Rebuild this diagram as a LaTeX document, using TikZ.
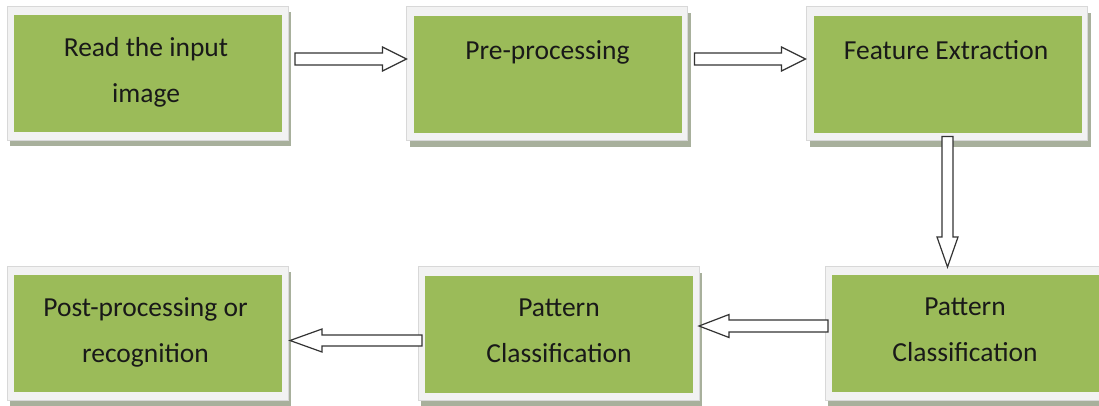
\documentclass[tikz,border=0pt]{standalone}
\usepackage{fontspec}
\setmainfont{Carlito}
\usetikzlibrary{calc,backgrounds}
\definecolor{boxgreen}{HTML}{9BBB59}
\definecolor{framefill}{HTML}{F2F2F2}
\definecolor{frameedge}{HTML}{D8D8D8}
\definecolor{shadowc}{RGB}{168,176,156}
\definecolor{arrowedge}{HTML}{333333}
\newcommand\blockarr[5]{%
  \coordinate (bab) at ($(#2)!#5!(#1)$);
  \draw[blockarrow]
    ($(#1)!#3!90:(#2)$) -- ($(bab)!#3!90:(#2)$) -- ($(bab)!#4!90:(#2)$) -- (#2)
    -- ($(bab)!#4!-90:(#2)$) -- ($(bab)!#3!-90:(#2)$) -- ($(#1)!#3!-90:(#2)$) -- cycle;
}
\begin{document}
\begin{tikzpicture}[x=1pt,y=-1pt,
  greenbox/.style={fill=boxgreen, minimum width=268pt, minimum height=117pt, inner sep=0pt, outer sep=0pt},
  labeltext/.style={font=\fontsize{27.5}{46}\selectfont, align=center, text=black!90, inner sep=0pt},
  blockarrow/.style={draw=arrowedge, line width=1.2pt, fill=white, line join=miter}]
\useasboundingbox (0,0) rectangle (1099,405);
% boxes
\node[greenbox] (b1) at (148,73.5) {};
\node[greenbox] (b2) at (547.5,74) {};
\node[greenbox] (b3) at (947.5,74) {};
\node[greenbox] (b4) at (148,333.5) {};
\node[greenbox] (b5) at (559,334) {};
\node[greenbox] (b6) at (966,333.5) {};
\begin{scope}[on background layer]
  \fill[white] (0,0) rectangle (1099,405);
  \foreach \b in {b1,b2,b3,b4,b5,b6} {
    \fill[shadowc] ($(\b.north west)+(-4,-3)$) rectangle ($(\b.south east)+(9,14)$);
    \filldraw[fill=framefill, draw=frameedge, line width=0.5pt]
      ($(\b.north west)+(-7,-9)$) rectangle ($(\b.south east)+(6,8)$);
  }
\end{scope}
% texts
\node[labeltext] (t1) at ($(b1)+(-2,-1)$) {Read the input\\image};
\node[labeltext] (t2) at ($(b2)+(0,-22)$) {Pre-processing};
\node[labeltext] (t3) at ($(b3)+(-1.5,-24)$) {Feature Extraction};
\node[labeltext] (t4) at ($(b4)+(-2.5,-1)$) {Post-processing or\\recognition};
\node[labeltext] (t5) at ($(b5)+(0,-3.5)$) {Pattern\\Classification};
\node[labeltext] (t6) at ($(b6)+(-1,-3.5)$) {Pattern\\Classification};
% arrow end points
\coordinate (a1s) at ($(b1.east)+(13,-14.5)$);
\coordinate (a1e) at ($(b2.west)+(-7,-15)$);
\coordinate (a2s) at ($(b2.east)+(13,-15)$);
\coordinate (a2e) at ($(b3.west)+(-8,-15)$);
\coordinate (a3s) at ($(b3.south)+(0,4)$);
\coordinate (a3e) at ($(b3.south |- b6.north)+(0,-8)$);
\coordinate (a4s) at ($(b6.west)+(-4,-7.5)$);
\coordinate (a4e) at ($(b5.east)+(6,-8)$);
\coordinate (a5s) at ($(b5.west)+(-3,6.5)$);
\coordinate (a5e) at ($(b4.east)+(8,7)$);
\blockarr{a1s}{a1e}{6pt}{12pt}{24pt}
\blockarr{a2s}{a2e}{6pt}{12pt}{24pt}
\blockarr{a3s}{a3e}{5.5pt}{10.5pt}{30pt}
\blockarr{a4s}{a4e}{6pt}{11.5pt}{30pt}
\blockarr{a5s}{a5e}{5.5pt}{11.5pt}{32pt}
\end{tikzpicture}
\end{document}
